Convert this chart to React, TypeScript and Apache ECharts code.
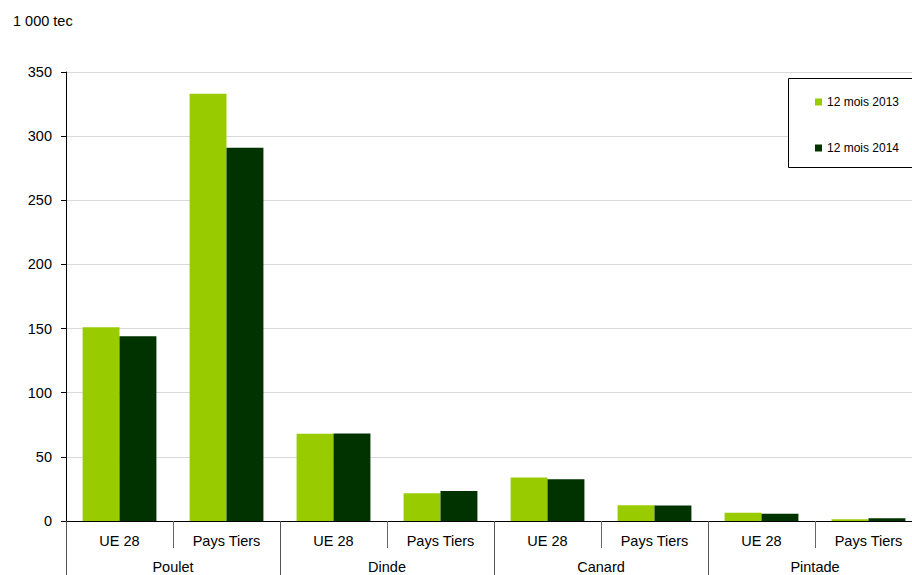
import React, { useEffect, useRef } from "react";
import * as echarts from "echarts";

const subCategories = ["UE 28", "Pays Tiers", "UE 28", "Pays Tiers", "UE 28", "Pays Tiers", "UE 28", "Pays Tiers"];
const groups = ["Poulet", "Dinde", "Canard", "Pintade"];
const series2013 = [151, 333, 68, 21.6, 34, 12.2, 6.5, 1.3];
const series2014 = [144, 291, 68.3, 23.4, 32.5, 12, 5.7, 2.1];
const seriesNames = ["12 mois 2013", "12 mois 2014"];
const yTicks = { min: 0, max: 350, interval: 50 };

const FONT = "Arial, 'Liberation Sans', sans-serif";
const FS = 14.5;

export default function App() {
  const ref = useRef<HTMLDivElement>(null);
  useEffect(() => {
    if (!ref.current) return;
    const chart = echarts.init(ref.current, null, { renderer: "svg" });
    chart.setOption({
      animation: false,
      textStyle: { fontFamily: FONT },
      grid: { left: 66, top: 72, bottom: 54, right: 18, containLabel: false },
      graphic: [
        {
          type: "text",
          left: 13,
          top: 13,
          style: { text: "1 000 tec", fontSize: FS, fontFamily: FONT, fill: "#000" },
        },
        {
          type: "rect",
          shape: { x: 788.5, y: 78.5, width: 140, height: 89 },
          style: { fill: "#fff", stroke: "#000", lineWidth: 1 },
          z: 50,
        },
      ],
      legend: {
        orient: "vertical",
        left: 810,
        top: 90,
        itemWidth: 7,
        itemHeight: 7,
        itemGap: 32,
        icon: "rect",
        z: 60,
        textStyle: { fontSize: 12, fontFamily: FONT, color: "#000", lineHeight: 14 },
        data: seriesNames,
      },
      xAxis: [
        {
          type: "category",
          data: subCategories,
          position: "bottom",
          axisLine: { show: true, lineStyle: { color: "#000", width: 1 } },
          axisTick: { show: true, alignWithLabel: false, interval: 0, length: 27, lineStyle: { color: "#666" } },
          axisLabel: { interval: 0, margin: 12, fontSize: FS, color: "#000", fontFamily: FONT },
        },
        {
          type: "category",
          data: groups,
          position: "bottom",
          axisLine: { show: false },
          axisTick: { show: true, alignWithLabel: false, interval: 0, length: 60, lineStyle: { color: "#555" } },
          axisLabel: { interval: 0, margin: 38, fontSize: FS, color: "#000", fontFamily: FONT },
        },
      ],
      yAxis: {
        type: "value",
        min: yTicks.min,
        max: yTicks.max,
        interval: yTicks.interval,
        axisLine: { show: true, lineStyle: { color: "#000", width: 1 } },
        axisTick: { show: true, length: 5, lineStyle: { color: "#000" } },
        axisLabel: { margin: 14, fontSize: FS, color: "#000", fontFamily: FONT },
        splitLine: { show: true, lineStyle: { color: "#d9d9d9", width: 1 } },
      },
      series: [
        {
          name: seriesNames[0],
          type: "bar",
          xAxisIndex: 0,
          data: series2013,
          barGap: "0%",
          barCategoryGap: "31%",
          itemStyle: { color: "#99cc00" },
        },
        {
          name: seriesNames[1],
          type: "bar",
          xAxisIndex: 0,
          data: series2014,
          barGap: "0%",
          barCategoryGap: "31%",
          itemStyle: { color: "#003300" },
        },
      ],
    });
    return () => chart.dispose();
  }, []);
  return (
    <div
      ref={ref}
      style={{ position: "fixed", left: 0, top: 0, width: 940, height: 575, background: "#fff" }}
    />
  );
}
